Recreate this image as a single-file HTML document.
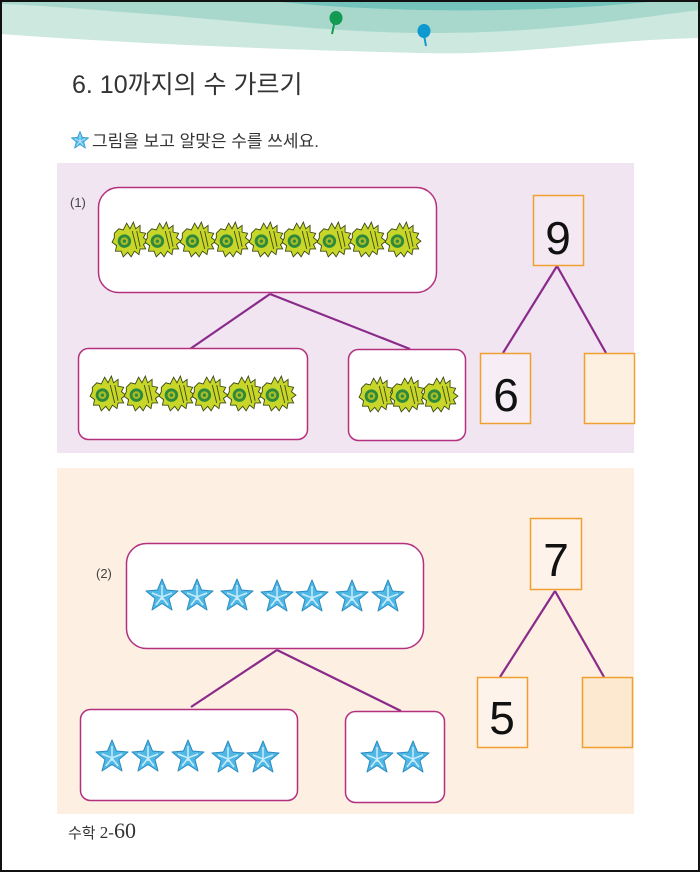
<!DOCTYPE html>
<html><head><meta charset="utf-8"><style>
html,body{margin:0;padding:0;background:#fff}
body{width:700px;height:872px;overflow:hidden}
svg{display:block}
text{font-family:"Liberation Sans","Noto Sans CJK KR",sans-serif}
</style></head><body>
<svg width="700" height="872" viewBox="0 0 700 872" xmlns="http://www.w3.org/2000/svg">
<defs>
<g id="shell0">
<path d="M-14,-6 L-10,-10 L-6,-9 L-3,-15 L0,-10 L3,-16 L5,-10 L9,-13 L9,-7 L14,-6 L12,-2 L16,1 L12,4 L14,8 L9,8 L8,13 L4,10 L1,15 L-2,11 L-6,15 L-8,10 L-13,10 L-12,5 L-16,2 L-14,-2 Z" fill="#c8d62a" stroke="#3a4a10" stroke-width="0.8"/>
<circle cx="-5" cy="1" r="6" fill="#2e8a3a"/>
<circle cx="-5" cy="1" r="3.5" fill="#a8bc28"/>
<circle cx="-5" cy="1" r="1.5" fill="#2e8a3a"/>
<path d="M2,-8 L6,8 M6,-8 L9,6" stroke="#3a4a10" stroke-width="0.8" fill="none"/>
</g>
<g id="shell"><use href="#shell0" transform="scale(1.12)"/></g>
<g id="star">
<path d="M0,-16 L4.5,-5 L16,-4 L7,3.5 L10,15 L0,8.5 L-10,15 L-7,3.5 L-16,-4 L-4.5,-5 Z" fill="#4fb8e6" stroke="#2a8cc0" stroke-width="1" stroke-linejoin="round"/>
<path d="M0,-10 L0,5 M-10,-2 L0,2 L10,-2 M-6,10 L0,2 L6,10" stroke="#c8ecfa" stroke-width="1.5" fill="none"/>
</g>
</defs>
<!-- header waves -->
<path d="M0,0 L700,0 L700,38 C600,40 520,56 420,53 C300,50 150,45 0,34 Z" fill="#cde8de"/>
<path d="M0,0 L700,0 L700,10 C620,20 540,34 420,33 C330,32 250,22 150,14 C80,9 40,5 0,4 Z" fill="#a8d8cc"/>
<path d="M260,0 L670,0 C610,6 530,12 420,10 C340,8 300,4 260,0 Z" fill="#74c4bc"/>
<line x1="335" y1="20" x2="332" y2="34" stroke="#129a50" stroke-width="2"/>
<ellipse cx="336" cy="18" rx="6.5" ry="7" fill="#129a50"/>
<line x1="424" y1="35" x2="426" y2="46" stroke="#0e9ad0" stroke-width="2"/>
<ellipse cx="424" cy="31" rx="6.5" ry="7" fill="#0e9ad0"/>

<text x="72" y="93" font-size="25" fill="#333">6. 10까지의 수 가르기</text>
<g transform="translate(80,140) scale(0.55)"><use href="#star"/></g>
<text x="92" y="147" font-size="17" fill="#333">그림을 보고 알맞은 수를 쓰세요.</text>

<!-- panel 1 -->
<rect x="57" y="163" width="577" height="290" fill="#f1e5f1"/>
<text x="70" y="207" font-size="13" fill="#444" font-family="Liberation Serif">(1)</text>
<rect x="98.5" y="187.5" width="338" height="105" rx="20" fill="#fff" stroke="#b3307e" stroke-width="1.5"/>
<line x1="270" y1="294" x2="190" y2="349" stroke="#8a2a8a" stroke-width="2.2"/>
<line x1="270" y1="294" x2="410" y2="349" stroke="#8a2a8a" stroke-width="2.2"/>
<rect x="78.5" y="348.5" width="229" height="91" rx="10" fill="#fff" stroke="#b3307e" stroke-width="1.5"/>
<rect x="348.5" y="349.5" width="117" height="91" rx="10" fill="#fff" stroke="#b3307e" stroke-width="1.5"/>
<g>
<use href="#shell" x="130" y="240"/><use href="#shell" x="163" y="240"/><use href="#shell" x="198" y="240"/>
<use href="#shell" x="232" y="240"/><use href="#shell" x="267" y="240"/><use href="#shell" x="300" y="240"/>
<use href="#shell" x="335" y="240"/><use href="#shell" x="368" y="240"/><use href="#shell" x="403" y="240"/>
<use href="#shell" x="108" y="394"/><use href="#shell" x="142" y="394"/><use href="#shell" x="177" y="394"/>
<use href="#shell" x="210" y="394"/><use href="#shell" x="245" y="394"/><use href="#shell" x="278" y="394"/>
<use href="#shell" x="377" y="395"/><use href="#shell" x="408" y="395"/><use href="#shell" x="440" y="395"/>
</g>
<line x1="557" y1="266" x2="503" y2="353" stroke="#8a2a8a" stroke-width="2.2"/>
<line x1="557" y1="266" x2="606" y2="353" stroke="#8a2a8a" stroke-width="2.2"/>
<rect x="533.5" y="195.5" width="50" height="70" fill="#f4e8f2" stroke="#f0a030" stroke-width="1.5"/>
<text x="558" y="254" font-size="46" text-anchor="middle" fill="#111" font-family="DejaVu Sans" font-weight="300">9</text>
<rect x="480.5" y="353.5" width="50" height="70" fill="#f6eef4" stroke="#f0a030" stroke-width="1.5"/>
<text x="506" y="411" font-size="46" text-anchor="middle" fill="#111" font-family="DejaVu Sans">6</text>
<rect x="584.5" y="353.5" width="50" height="70" fill="#fdf0e0" stroke="#f0a030" stroke-width="1.5"/>

<!-- panel 2 -->
<rect x="57" y="468" width="577" height="346" fill="#fdefe2"/>
<text x="96" y="578" font-size="13" fill="#444" font-family="Liberation Serif">(2)</text>
<rect x="126.5" y="543.5" width="297" height="105" rx="20" fill="#fff" stroke="#b3307e" stroke-width="1.5"/>
<line x1="277" y1="650" x2="191" y2="707" stroke="#8a2a8a" stroke-width="2.2"/>
<line x1="277" y1="650" x2="401" y2="711" stroke="#8a2a8a" stroke-width="2.2"/>
<rect x="80.5" y="709.5" width="217" height="91" rx="10" fill="#fff" stroke="#b3307e" stroke-width="1.5"/>
<rect x="345.5" y="711.5" width="99" height="91" rx="10" fill="#fff" stroke="#b3307e" stroke-width="1.5"/>
<g>
<use href="#star" x="162" y="595"/><use href="#star" x="197" y="595"/><use href="#star" x="237" y="595"/>
<use href="#star" x="277" y="596"/><use href="#star" x="312" y="596"/><use href="#star" x="352" y="596"/>
<use href="#star" x="388" y="596"/>
<use href="#star" x="112" y="756"/><use href="#star" x="148" y="756"/><use href="#star" x="188" y="756"/>
<use href="#star" x="228" y="757"/><use href="#star" x="263" y="757"/>
<use href="#star" x="377" y="757"/><use href="#star" x="413" y="757"/>
</g>
<line x1="555" y1="591" x2="500" y2="677" stroke="#8a2a8a" stroke-width="2.2"/>
<line x1="555" y1="591" x2="604" y2="677" stroke="#8a2a8a" stroke-width="2.2"/>
<rect x="530.5" y="518.5" width="51" height="71" fill="#fdf3ea" stroke="#f0a030" stroke-width="1.5"/>
<text x="556" y="576" font-size="46" text-anchor="middle" fill="#111" font-family="DejaVu Sans">7</text>
<rect x="477.5" y="677.5" width="50" height="70" fill="#fdf3ea" stroke="#f0a030" stroke-width="1.5"/>
<text x="502" y="734" font-size="46" text-anchor="middle" fill="#111" font-family="DejaVu Sans">5</text>
<rect x="582.5" y="677.5" width="50" height="70" fill="#fde9cf" stroke="#f0a030" stroke-width="1.5"/>

<text x="68" y="838" font-size="15" fill="#333">수학 <tspan font-family="Liberation Serif" font-size="17">2-</tspan><tspan font-family="Liberation Serif" font-size="22">60</tspan></text>

<rect x="1" y="1" width="698" height="870" fill="none" stroke="#111" stroke-width="2"/>
</svg>
</body></html>
